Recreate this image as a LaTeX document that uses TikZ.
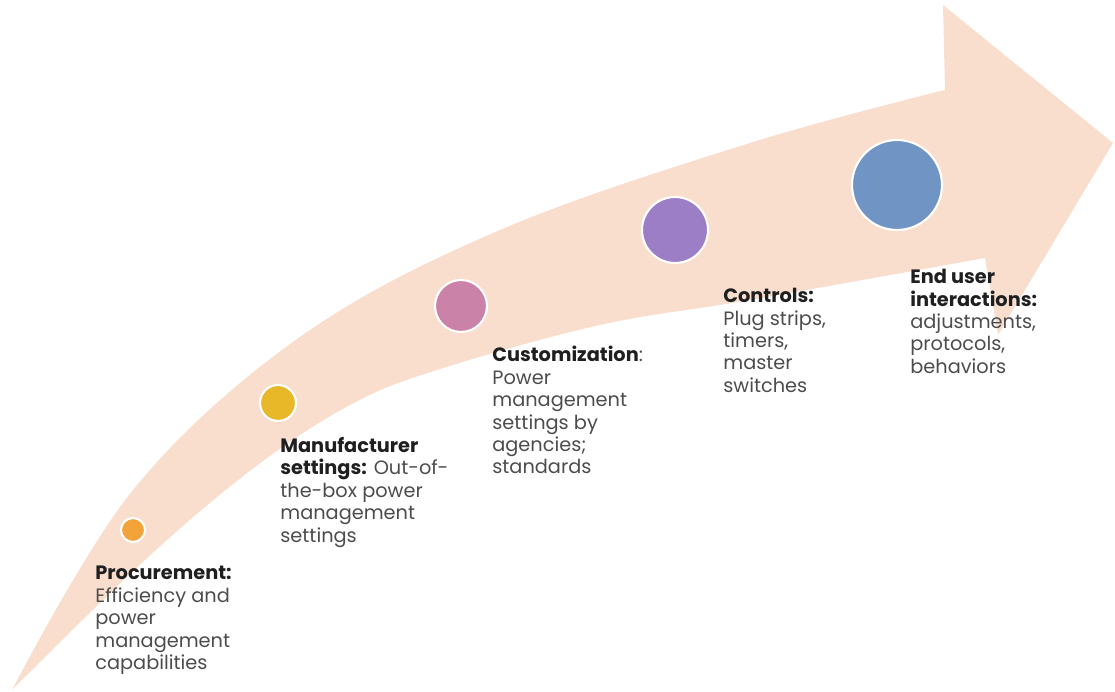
\documentclass[tikz,border=0pt]{standalone}
\usepackage{fontspec}
\setmainfont{Poppins}
\usepackage{xcolor}
\definecolor{band}{HTML}{F9DECE}
\definecolor{dotA}{HTML}{F2A33A}
\definecolor{dotB}{HTML}{E8B828}
\definecolor{dotC}{HTML}{CB82A8}
\definecolor{dotD}{HTML}{9B7EC6}
\definecolor{dotE}{HTML}{7094C4}
\newcommand{\stg}[1]{\textcolor{black!88}{\textbf{#1}}}
\tikzset{
  dot/.style={circle,draw=white,line width=1.2pt,inner sep=0pt,minimum size=#1},
  lbl/.style={anchor=north west,align=left,inner sep=0pt,text=black!70},
}
\tikzstyle{every node}=[font=\fontsize{11}{12.75}\selectfont]

\begin{document}
\begin{tikzpicture}
  \useasboundingbox (0,0) rectangle (22.3,13.84);
  % the curved arrow
  \fill[band] plot[smooth,tension=.6] coordinates {(0.24,0.04) (2.66,4.04) (6.00,7.10) (10.00,9.24) (15.00,10.98) (18.90,12.04)}
    -- (18.86,13.74) -- (22.26,10.98) -- (19.96,7.14) -- (19.70,8.68)
    -- plot[smooth,tension=.6] coordinates {(19.70,8.68) (15.00,7.84) (12.00,7.34) (8.74,6.44) (7.00,5.74) (5.10,4.50) (2.90,2.64) (0.24,0.04)}
    -- cycle;

  % stages
  \node[dot=0.48cm,fill=dotA] (d1) at (2.66,3.24) {};
  \node[dot=0.72cm,fill=dotB] (d2) at (5.56,5.78) {};
  \node[dot=1.04cm,fill=dotC] (d3) at (9.22,7.72) {};
  \node[dot=1.32cm,fill=dotD] (d4) at (13.50,9.24) {};
  \node[dot=1.80cm,fill=dotE] (d5) at (17.94,10.14) {};

  \node[lbl] (proc) at (1.90,2.52) {\stg{Procurement:}\\Efficiency and\\power\\management\\capabilities};
  \node[lbl] (manu) at (5.60,5.10) {\stg{Manufacturer}\\\stg{settings:} Out-of-\\the-box power\\management\\settings};
  \node[lbl] (cust) at (9.84,6.92) {\stg{Customization}:\\Power\\management\\settings by\\agencies;\\standards};
  \node[lbl] (ctrl) at (14.46,8.08) {\stg{Controls:}\\Plug strips,\\timers,\\master\\switches};
  \node[lbl] (user) at (18.20,8.46) {\stg{End user}\\\stg{interactions:}\\adjustments,\\protocols,\\behaviors};
\end{tikzpicture}
\end{document}
